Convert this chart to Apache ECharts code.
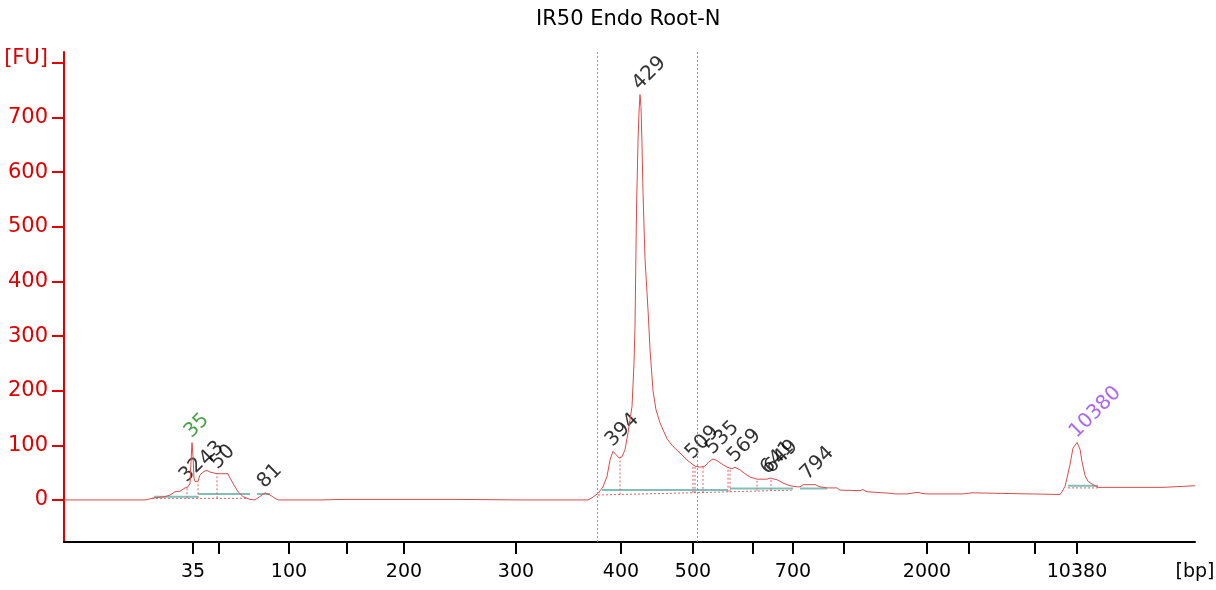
<!DOCTYPE html>
<html>
<head>
<meta charset="utf-8">
<script src="https://cdn.jsdelivr.net/npm/echarts@6/dist/echarts.min.js"></script>
<style>
html,body{margin:0;padding:0;background:#fff;}
#chart{width:1216px;height:590px;}
</style>
</head>
<body>
<div id="chart"></div>
<script>
// Migration time (arbitrary units) and fluorescence (FU) of the electropherogram trace
const time = [0,8.1,8.3,9.1,10.1,10.6,11.1,11.6,12.1,12.4,12.6,12.7,12.8,12.9,13.0,13.1,13.4,13.6,14.0,14.3,14.6,14.8,15.3,16.4,16.6,17.1,17.4,17.9,18.6,19.1,19.4,19.8,20.1,20.6,21.1,21.4,
  23.6,23.7,23.8,25.6,25.7,28.1,28.2,28.3,29.1,29.2,29.3,33.1,33.2,33.3,39.1,39.2,45.6,45.7,45.8,52.4,52.6,52.8,53.4,53.9,54.3,54.6,54.9,55.2,55.5,55.8,56.1,56.4,56.8,57.0,57.1,57.25,57.4,57.5,57.6,57.7,57.8,57.9,58.1,58.3,58.45,58.6,58.9,59.2,59.6,60.3,60.9,61.6,62.3,62.8,63.1,63.6,64.1,64.5,64.9,65.3,65.6,66.3,66.8,67.1,67.6,68.1,68.6,69.3,70.3,70.6,71.3,71.9,72.6,73.3,73.6,73.9,75.1,75.6,76.3,77.3,77.6,79.6,79.9,80.0,80.3,82.8,83.1,84.3,84.4,85.4,85.8,86.3,89.9,90.0,90.8,90.9,99.6,99.8,100.1,100.3,100.6,100.9,101.3,101.6,101.8,102.1,102.4,102.9,103.4,109.9,110.0,113.1];
const fu = [0,0,2,4,6,9,15,16,22,24,30,70,105,80,40,34,34,46,52,54,51,49,48,48,40,24,15,6,1,0,4,9,13,9,3,0,
  0,2,0,0,1,1,3,1,1,2,1,1,2,1,1,0,0,2,0,0,1,4,12,24,43,73,89,83,77,79,92,123,171,250,318,533,656,710,742,720,650,563,441,380,331,276,200,165,141,112,98,86,73,66,62,60,62,70,75,72,68,60,57,60,55,48,42,38,38,40,37,31,26,24,24,28,28,24,22,22,18,17,19,17,15,12,11,11,14,14,12,11,11,13,13,10.5,10,15,25,40,65,95,105,93,70,45,34,28,23,23,26,26];

// Axis tick positions (time) and their bp labels
const xTickTimes = [12.9,15.5,22.5,28.3,34.0,45.2,55.7,62.9,68.9,72.9,78.0,86.3,90.5,97.1,101.3];
const xTickLabels = ['35','','100','','200','300','400','500','','700','','2000','','','10380'];
const yTicks = [0,100,200,300,400,500,600,700,800];

// Peaks: time, height (FU), size label
const peakTimes = [12.3,12.8,14.3,15.4,20.1,54.9,57.6,62.9,64.9,67.1,70.4,70.8,74.4,101.3];
const peakHeights = [24,105,54,48,13,89,742,66,75,60,38,40,28,105];
const peakLabels = ['32','35','43','50','81','394','429','509','535','569','641','649','794','10380'];

// Region markers
const regionMarkers = [53.3,63.3];

// Peak integration baselines [start, end, FU]
const baseStart = [9.0,13.4,19.3,53.8,66.6,73.6,100.4];
const baseEnd = [13.4,18.6,20.6,66.4,72.9,76.3,103.4];
const baseLevel = [6,11,11,18,21,21,26];
// Peak boundaries (time, base FU)
const boundTimes = [12.3,13.4,15.3,18.4,55.6,62.9,63.1,63.9,66.4,66.6,69.3,70.7];
const boundBase = [3,3,3,3,10,13,13,13,15,15,17,18];

function curveAt(t){
  for(let i=1;i<time.length;i++){
    if(time[i]>=t){const f=(t-time[i-1])/(time[i]-time[i-1]);return fu[i-1]+f*(fu[i]-fu[i-1]);}
  }
  return fu[fu.length-1];
}

const trace = time.map((t,i)=>[t,fu[i]]);
const baseData = [];
baseStart.forEach((s,i)=>{baseData.push([s,baseLevel[i]],[baseEnd[i],baseLevel[i]],[baseEnd[i],'-']);});
const boundData = [];
boundTimes.forEach((t,i)=>{boundData.push([t,boundBase[i]],[t,curveAt(t)],[t,'-']);});
const lowBase = [[8.8,3],[18.3,3],[18.3,'-'],[53.4,9],[62.6,13],[72.9,18],[72.9,'-'],[100.4,22],[103.4,22]];

const peakData = peakTimes.map((t,i)=>({
  value:[t,peakHeights[i]],
  label:{color: peakLabels[i]==='35' ? '#1a8c1a' : (peakLabels[i]==='10380' ? '#9a40f0' : '#000')},
  name: peakLabels[i]
}));

const FONT = 'DejaVu Sans';
const chart = echarts.init(document.getElementById('chart'));
chart.setOption({
  animation:false,
  title:{text:'IR50 Endo Root-N',left:531,top:4,textStyle:{fontFamily:FONT,fontSize:21,fontWeight:'normal',color:'#000'}},
  grid:{left:64,right:21,top:52,bottom:48,containLabel:false,outerBoundsMode:'none'},
  xAxis:{type:'value',min:0,max:113.1,
    axisLine:{show:true,onZero:false,lineStyle:{color:'#000',width:2}},
    axisTick:{show:true,length:12,inside:false,lineStyle:{color:'#000',width:2},customValues:xTickTimes},
    axisLabel:{show:true,customValues:xTickTimes.concat([113.1]),margin:21,fontFamily:FONT,fontSize:19,color:'#000',
      formatter:function(v){const i=xTickTimes.findIndex(x=>Math.abs(x-v)<1e-6);return i>=0?xTickLabels[i]:'[bp]';}},
    splitLine:{show:false}},
  yAxis:{type:'value',min:-77,max:820,
    axisLine:{show:true,onZero:false,lineStyle:{color:'#e00000',width:2}},
    axisTick:{show:true,length:12,lineStyle:{color:'#e00000',width:2},customValues:yTicks},
    axisLabel:{customValues:yTicks,margin:16,fontFamily:FONT,fontSize:21,color:'#e00000',
      formatter:function(v){return v===800?'{fu|[FU]}':String(v);},
      rich:{fu:{fontFamily:FONT,fontSize:21,color:'#e00000',padding:[0,0,8,0]}}},
    splitLine:{show:false}},
  series:[
    {type:'line',data:lowBase,symbol:'none',silent:true,lineStyle:{color:'#e06060',width:1,type:[2,2]}},
    {type:'line',data:baseData,symbol:'none',silent:true,lineStyle:{color:'#7fbfb8',width:2}},
    {type:'line',data:boundData,symbol:'none',silent:true,lineStyle:{color:'#e06060',width:1,type:[2,2]}},
    {type:'line',data:trace,symbol:'none',silent:true,lineStyle:{color:'#dc4a4a',width:1},
      markLine:{silent:true,symbol:'none',label:{show:false},lineStyle:{color:'#8c8cf0',type:[2,2],width:1},
        data:regionMarkers.map(x=>({xAxis:x}))}},
    {type:'scatter',data:peakData,symbolSize:0,silent:true,
      label:{show:true,formatter:p=>p.name,position:'top',distance:12,offset:[-6,0],align:'left',verticalAlign:'middle',rotate:45,fontFamily:FONT,fontSize:20}}
  ]
});
</script>
</body>
</html>
